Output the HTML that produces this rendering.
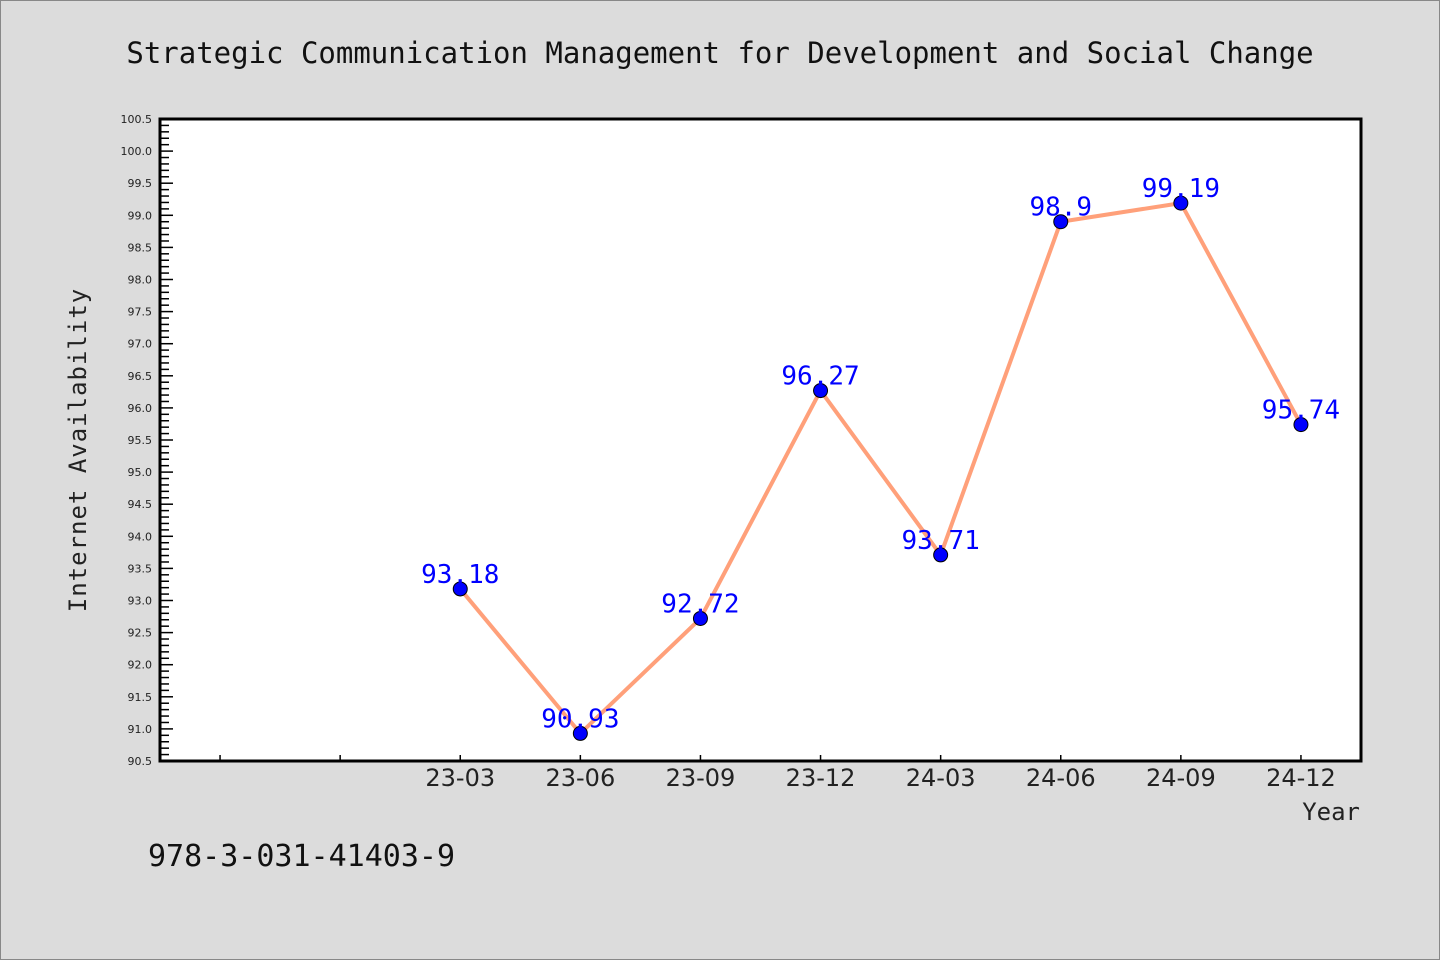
<!DOCTYPE html>
<html><head><meta charset="utf-8"><style>
body{margin:0;background:#dcdcdc;}
svg{display:block;font-family:"DejaVu Sans","Liberation Sans",sans-serif;}
</style></head><body>
<svg id="chart" width="1440" height="960">
<rect x="0.5" y="0.5" width="1439" height="959" fill="#dcdcdc" stroke="#888"/>
<text x="720" y="63" text-anchor="middle" font-family="DejaVu Sans Mono, Liberation Mono, monospace" font-size="29" fill="#111">Strategic Communication Management for Development and Social Change</text>
<rect x="160" y="119" width="1201" height="642" fill="#fff"/>
<g id="yaxis"></g>
<g id="xaxis"></g>
<g id="series"></g>
<rect x="160" y="119" width="1201" height="642" fill="none" stroke="#000" stroke-width="3"/>
<text x="86" y="450" text-anchor="middle" transform="rotate(-90 86 450)" font-family="DejaVu Sans Mono, monospace" font-size="24" fill="#222" letter-spacing="1">Internet Availability</text>
<text x="1360" y="820" text-anchor="end" font-family="DejaVu Sans Mono, monospace" font-size="24" fill="#222">Year</text>
<text x="148" y="866" font-family="DejaVu Sans Mono, monospace" font-size="30" fill="#111">978-3-031-41403-9</text>
</svg>
<script>
const categories = ["", "", "23-03", "23-06", "23-09", "23-12", "24-03", "24-06", "24-09", "24-12"];
const values = [null, null, 93.18, 90.93, 92.72, 96.27, 93.71, 98.9, 99.19, 95.74];
const valueLabels = ["", "", "93.18", "90.93", "92.72", "96.27", "93.71", "98.9", "99.19", "95.74"];
const yMin = 90.5, yMax = 100.5;
const L = 160, R = 1361, T = 119, B = 761;
const NS = "http://www.w3.org/2000/svg";
const bw = (R - L) / categories.length;
const xs = i => L + bw * (i + 0.5);
const ys = v => B - (v - yMin) / (yMax - yMin) * (B - T);
function mk(tag, attrs, parent) { const e = document.createElementNS(NS, tag); for (const k in attrs) e.setAttribute(k, attrs[k]); parent.appendChild(e); return e; }
const yg = document.getElementById('yaxis'), xg = document.getElementById('xaxis'), sg = document.getElementById('series');
for (let k = 0; k <= 100; k++) {
  const v = yMin + k * 0.1, y = ys(v), major = k % 5 === 0;
  const t = mk('line', {x1: L, x2: L + (major ? 13 : 9), y1: y, y2: y, stroke: '#000', 'stroke-width': 1.5}, yg);
  
  
  if (major) {
    const lb = mk('text', {x: L - 8, y: y + 4, 'text-anchor': 'end', 'font-size': 11, fill: '#222'}, yg);
    lb.textContent = v.toFixed(1);
    
    
  }
}
categories.forEach((c, i) => {
  const x = xs(i);
  const t = mk('line', {x1: x, x2: x, y1: B, y2: B - 6, stroke: '#000', 'stroke-width': 1.5}, xg);
  
  
  if (c) {
    const lb = mk('text', {x: x, y: B + 25, 'text-anchor': 'middle', 'font-size': 24, fill: '#222'}, xg);
    lb.textContent = c;
    
    
  }
});
const pts = [];
values.forEach((v, i) => { if (v !== null) pts.push([xs(i), ys(v), i]); });
const line = mk('polyline', {points: pts.map(p => p[0] + ',' + p[1]).join(' '), fill: 'none', stroke: '#ffa07a', 'stroke-width': 4, 'stroke-linejoin': 'round'}, sg);


pts.forEach(p => {
  const c = mk('circle', {cx: p[0], cy: p[1], r: 7, fill: '#0000ff', stroke: '#000', 'stroke-width': 1}, sg);
  
  
  const lb = mk('text', {x: p[0], y: p[1] - 6, 'text-anchor': 'middle', 'font-size': 26, fill: '#0000ff', 'font-family': 'DejaVu Sans Mono, monospace'}, sg);
  lb.textContent = valueLabels[p[2]];
  
  
});
</script>
</body></html>
